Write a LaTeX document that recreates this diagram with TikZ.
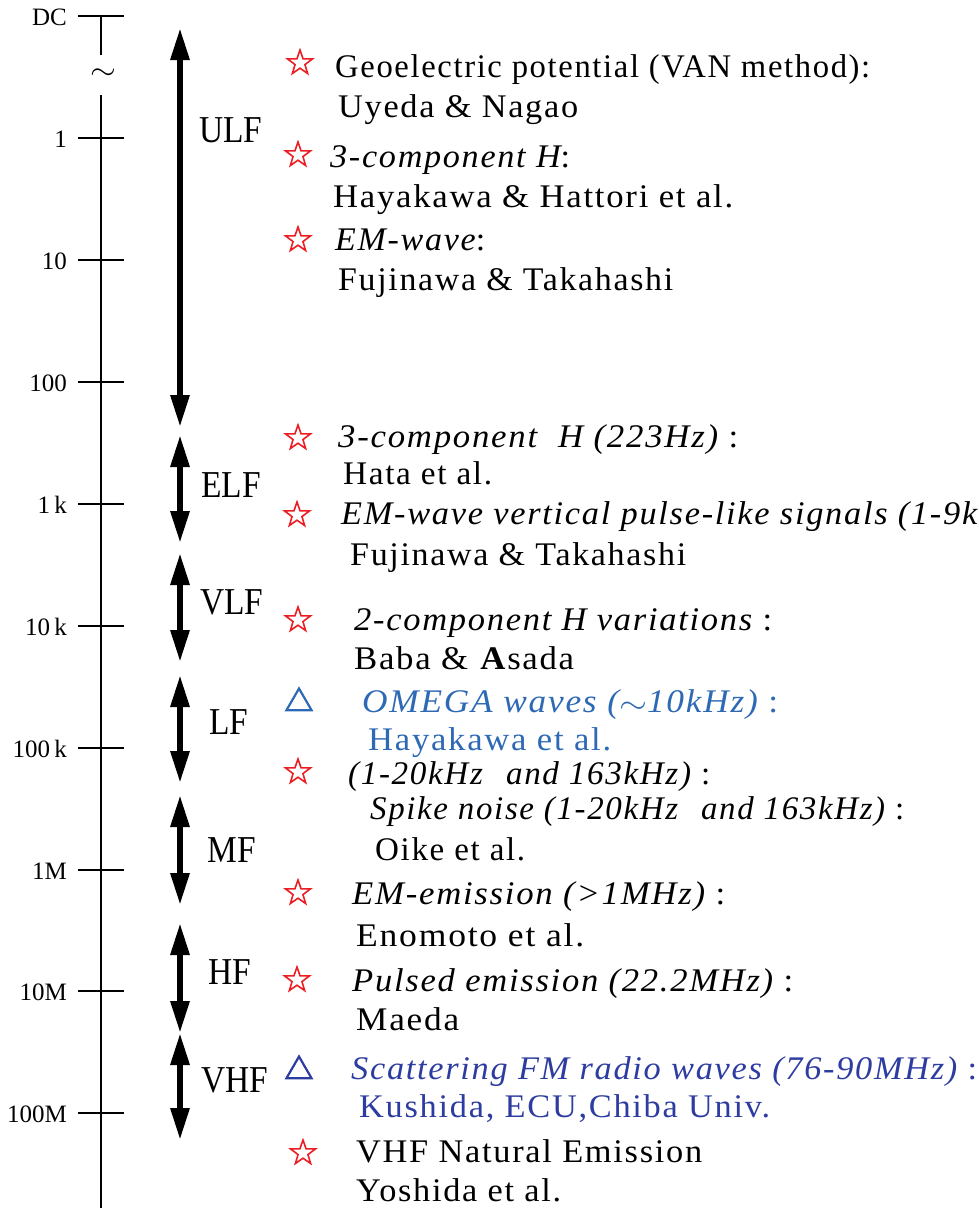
\documentclass[tikz,border=0pt]{standalone}
\usepackage{fontspec}
\setmainfont{Liberation Serif}
\newfontfamily\bodyfont[LetterSpace=5]{Liberation Serif}
\usetikzlibrary{arrows.meta,shapes.geometric}
\definecolor{starred}{RGB}{235,30,35}
\definecolor{omegablue}{RGB}{45,105,180}
\definecolor{fmblue}{RGB}{45,60,160}

% set a line of text to a given width, keeping its height
\newcommand{\fitline}[2]{\resizebox{#1pt}{\height}{#2}}
\newcommand{\bigtilde}{\raisebox{-.05em}{\scalebox{1.35}[1.25]{$\sim$}}}

\tikzset{
  axisline/.style={line width=2pt},
  tickmark/.style={line width=2pt},
  ticklabel/.style={anchor=east, inner sep=0pt, font=\fontsize{25}{28}\selectfont},
  bandlabel/.style={anchor=center, inner sep=0pt, font=\fontsize{38}{40}\selectfont},
  bandarrow/.style={line width=6pt,
    {Triangle[length=32pt,width=18pt]}-{Triangle[length=32pt,width=18pt]}},
  entry/.style={anchor=base west, inner sep=0pt, font=\bodyfont\fontsize{33}{38}\selectfont},
  staricon/.style={star, star points=5, star point ratio=2.5, draw=starred,
    line width=1.6pt, minimum size=26pt, inner sep=0pt},
  triicon/.style={regular polygon, regular polygon sides=3, line width=2.2pt,
    minimum size=29pt, inner sep=0pt},
}

\begin{document}
\begin{tikzpicture}[x=1pt, y=-1pt]
\useasboundingbox (0,0) rectangle (979,1208);

% frequency axis with a break below DC
\coordinate (axtop) at (101,16);
\coordinate (brkA) at (101,55);
\coordinate (brkB) at (101,95);
\coordinate (axbot) at (101,1208);
\draw[axisline] (axtop) -- (brkA);
\draw[axisline] (brkB) -- (axbot);
\node[font=\fontsize{20}{22}\selectfont, inner sep=0pt] (brk) at (103,74)
  {\scalebox{1.6}[1.4]{$\sim$}};

% ticks and their labels
\foreach \y/\lab/\nm in {16/DC/dc, 138/1/f0, 260/10/f1, 382/100/f2, 504/1\,k/f3,
    626/10\,k/f4, 748/100\,k/f5, 870/1M/f6, 991/10M/f7, 1113/100M/f8} {
  \coordinate (\nm L) at (78,\y);
  \coordinate (\nm R) at (124,\y);
  \draw[tickmark] (\nm L) -- (\nm R);
  \node[ticklabel] (\nm lab) at (67,\y+1) {\lab};
}

% frequency bands
\foreach \nm/\ya/\yb/\ly/\lx in {ULF/28/427/130/231, ELF/435/543/485/231,
    VLF/553/662/602/232, LF/675/783/722/229, MF/795/905/850/232,
    HF/923/1033/972/230, VHF/1033/1140/1080/235} {
  \coordinate (\nm top) at (180,\ya);
  \coordinate (\nm bot) at (180,\yb);
  \draw[bandarrow] (\nm top) -- (\nm bot);
  \node[bandlabel] (\nm) at (\lx,\ly) {\scalebox{0.88}[1]{\nm}};
}

% markers
\node[staricon] (m1) at (300,63) {};
\node[staricon] (m2) at (298,155) {};
\node[staricon] (m3) at (298,240) {};
\node[staricon] (m4) at (298,438) {};
\node[staricon] (m5) at (297,515) {};
\node[staricon] (m6) at (298,620) {};
\node[triicon, draw=omegablue] (m7) at (299,703) {};
\node[staricon] (m8) at (298,772) {};
\node[staricon] (m9) at (298,893) {};
\node[staricon] (m10) at (297,980) {};
\node[triicon, draw=fmblue] (m11) at (299,1071) {};
\node[staricon] (m12) at (303,1153) {};

% observations
\node[entry] (t1) at (335,77) {\fitline{535}{Geoelectric potential (VAN method):}};
\node[entry] (t2) at (338,117) {\fitline{240}{Uyeda \& Nagao}};
\node[entry] (t3) at (330,167) {\fitline{240}{{\itshape 3-component H}:}};
\node[entry] (t4) at (333,207) {\fitline{400}{Hayakawa \& Hattori et al.}};
\node[entry] (t5) at (335,250) {\fitline{150}{{\itshape EM-wave}:}};
\node[entry] (t6) at (338,290) {\fitline{335}{Fujinawa \& Takahashi}};
\node[entry] (t7) at (338,447) {\fitline{400}{{\itshape 3-component\hspace{.3em} H (223Hz)} :}};
\node[entry] (t8) at (343,484) {\fitline{149}{Hata et al.}};
\node[entry] (t9) at (341,524) {\fitline{636}{\itshape EM-wave vertical pulse-like signals (1-9k}};
\node[entry] (t10) at (350,565) {\fitline{336}{Fujinawa \& Takahashi}};
\node[entry] (t11) at (354,630) {\fitline{418}{{\itshape 2-component H variations} :}};
\node[entry] (t12) at (354,669) {\fitline{220}{Baba \& \textbf{A}sada}};
\node[entry, text=omegablue] (t13) at (362,712) {\fitline{416}{{\itshape OMEGA waves (\bigtilde10kHz)} :}};
\node[entry, text=omegablue] (t14) at (368,750) {\fitline{243}{Hayakawa et al.}};
\node[entry] (t15) at (348,784) {\fitline{362}{{\itshape (1-20kHz\hspace{.4em} and 163kHz)} :}};
\node[entry] (t16) at (370,819) {\fitline{534}{{\itshape Spike noise (1-20kHz\hspace{.4em} and 163kHz)} :}};
\node[entry] (t17) at (375,860) {\fitline{150}{Oike et al.}};
\node[entry] (t18) at (352,904) {\fitline{373}{{\itshape EM-emission (>1MHz)} :}};
\node[entry] (t19) at (356,946) {\fitline{228}{Enomoto et al.}};
\node[entry] (t20) at (352,991) {\fitline{441}{{\itshape Pulsed emission (22.2MHz)} :}};
\node[entry] (t21) at (356,1030) {\fitline{103}{Maeda}};
\node[entry, text=fmblue] (t22) at (351,1079) {\fitline{626}{{\itshape Scattering FM radio waves (76-90MHz)} :}};
\node[entry, text=fmblue] (t23) at (359,1117) {\fitline{411}{Kushida, ECU,Chiba Univ.}};
\node[entry] (t24) at (356,1162) {\fitline{346}{VHF Natural Emission}};
\node[entry] (t25) at (356,1201) {\fitline{205}{Yoshida et al.}};
\end{tikzpicture}
\end{document}
